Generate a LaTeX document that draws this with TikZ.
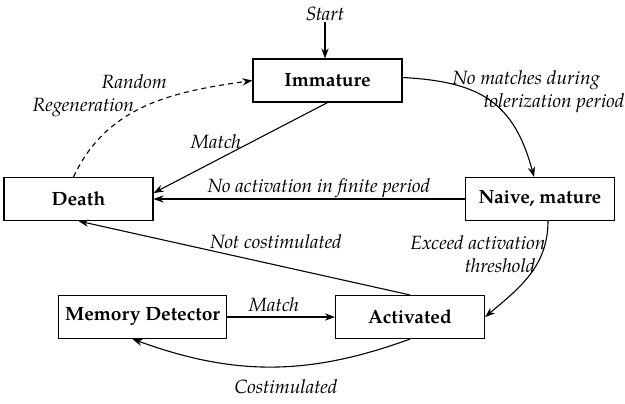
\documentclass[tikz,border=0pt]{standalone}
\usepackage{fontspec}
\setmainfont{TeX Gyre Pagella}
\usetikzlibrary{arrows.meta}

\newcommand{\picsize}{\fontsize{9.6pt}{11.6pt}\selectfont}

\begin{document}
\begin{tikzpicture}[x=0.5pt, y=0.5pt, line width=0.55pt,
                    >={Stealth[length=5pt, width=3.6pt, inset=1.6pt]},
                    state/.style = {draw, minimum width=74.5pt,
                                    minimum height=21.5pt, font=\picsize\bfseries},
                    lbl/.style = {inner sep=0pt, font=\picsize\itshape}]
\useasboundingbox (0,0) rectangle (625,-403);
% states
\node[state] (immature) at (327.5,-80.5) {Immature};
\node[state] (death) at (78.5,-199) {Death};
\node[state] (naive) at (540,-199) {Naive, mature};
\node[state] (memory) at (142.5,-317) {Memory Detector};
\node[state] (activated) at (410,-317) {Activated};
% start
\node[lbl] (start) at (325,-14) {Start};
\draw[->] (start) -- (start |- immature.north);
% transitions
\draw[->, dash pattern=on 2.5pt off 2pt] ([xshift=-2.5pt]death.north)
    to[out=65, in=188] (immature.west);
\draw[->] (immature.south) -- ([yshift=3pt]death.east);
\draw[->] (naive.west) -- (death.east);
\draw[->] ([yshift=1.5pt]immature.east) to[out=-3, in=105, looseness=1.2]
    ([xshift=-3pt]naive.north);
\draw[->] (activated.north) -- (death.south);
\draw[->] ([xshift=4pt]naive.south) to[out=-90, in=40] (activated.east);
\draw[->] (memory) -- (activated);
\draw[->] (activated.south) to[out=200, in=-20] ([xshift=-5pt]memory.south);
% labels
\node[lbl, align=left, anchor=west] (regen) at (32,-96)
    {\hspace*{34.5pt}Random\\Regeneration};
\node[lbl] (match1) at (216,-142) {Match};
\node[lbl] (noact) at (319,-188) {No activation in finite period};
\node[lbl, align=left, anchor=west] (nomatch) at (452,-92)
    {No matches during\\\hspace*{15.5pt}tolerization period};
\node[lbl] (notcost) at (276,-242) {Not costimulated};
\node[lbl, align=right, anchor=east] (exceed) at (546,-254)
    {Exceed activation\\threshold\hspace*{5pt}};
\node[lbl] (match2) at (274,-305) {Match};
\node[lbl] (cost) at (286,-387) {Costimulated};
\end{tikzpicture}
\end{document}
